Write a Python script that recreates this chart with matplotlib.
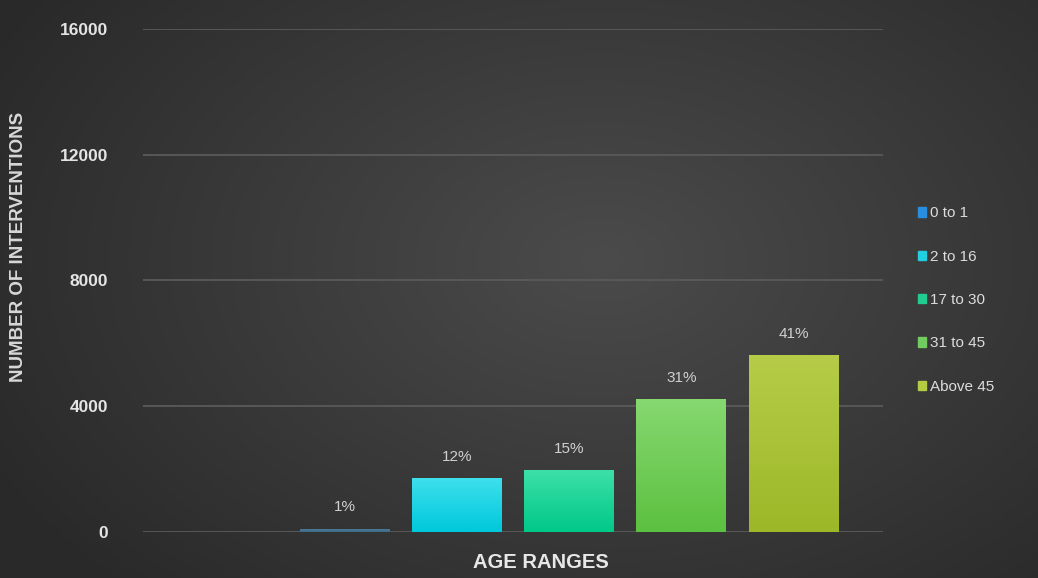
import matplotlib
matplotlib.use("Agg")
import matplotlib.pyplot as plt
import numpy as np
from matplotlib.colors import LinearSegmentedColormap

plt.rcParams["font.family"] = ["Liberation Sans", "DejaVu Sans"]

# ─── Data ─────────────────────────────────────────────────────────────────────
series = ["0 to 1", "2 to 16", "17 to 30", "31 to 45", "Above 45"]
values = [110, 1720, 1980, 4220, 5620]
shares = ["1%", "12%", "15%", "31%", "41%"]
y_ticks = [0, 4000, 8000, 12000, 16000]

top_colors = ["#4f7f9c", "#3fe0ec", "#3ee0a8", "#86d870", "#b6cc48"]
bot_colors = ["#3d6a86", "#00c8dc", "#00c888", "#5cc040", "#9cb828"]
legend_colors = ["#2a8ee0", "#22cfe0", "#20cc90", "#72cc60", "#b4cc44"]

fig = plt.figure(figsize=(10.38, 5.78), dpi=100)

# ─── Background: soft radial grey gradient ────────────────────────────────────
bg = fig.add_axes([0, 0, 1, 1])
yy, xx = np.mgrid[0:1:300j, 0:1:540j]
r = np.sqrt(((xx - 0.58) / 0.75) ** 2 + ((yy - 0.45) / 0.9) ** 2)
bg_cmap = LinearSegmentedColormap.from_list("bg", ["#4b4b4b", "#292929"])
bg.imshow(r, cmap=bg_cmap, aspect="auto", extent=[0, 1, 0, 1], vmin=0, vmax=0.9)
bg.axis("off")

# ─── Main axes ────────────────────────────────────────────────────────────────
ax = fig.add_axes([0.1378, 0.0796, 0.713, 0.8704])
ax.set_facecolor("none")
for s in ax.spines.values():
    s.set_visible(False)
ax.set_yticks(y_ticks)
ax.set_yticklabels([str(t) for t in y_ticks], color="#e4e4e4",
                   fontsize=12.5, fontweight="bold")
ax.tick_params(axis="y", length=0, pad=25)
ax.set_xticks([])
ax.grid(axis="y", color="#5a5a5a", linewidth=1.3)
ax.set_axisbelow(True)

# first slot of the group is empty, series occupy slots 1..5
xs = np.arange(1, len(series) + 1)
bars = ax.bar(xs, values, width=0.8, color=bot_colors, zorder=2)
grad = np.linspace(0, 1, 100).reshape(-1, 1)
for b, c0, c1, v, lab in zip(bars, top_colors, bot_colors, values, shares):
    cm = LinearSegmentedColormap.from_list("g", [c1, c0])
    x0 = b.get_x()
    im = ax.imshow(grad, cmap=cm, aspect="auto", origin="lower",
                   extent=[x0, x0 + b.get_width(), 0, v], zorder=3)
    im.set_clip_path(b)
    ax.text(b.get_x() + b.get_width() / 2, v + 450, lab, ha="center",
            va="bottom", color="#d0d0d0", fontsize=11)
ax.set_xlim(-0.8, 5.8)
ax.set_ylim(0, 16000)

fig.text(0.521, 0.026, "AGE RANGES", ha="center", va="center",
         color="#e8e8e8", fontsize=14.5, fontweight="bold")
fig.text(0.018, 0.573, "NUMBER OF INTERVENTIONS", ha="center", va="center",
         rotation=90, color="#d8d8d8", fontsize=13.5, fontweight="bold")

# ─── Legend ───────────────────────────────────────────────────────────────────
handles = [plt.Rectangle((0, 0), 1, 1, color=c) for c in legend_colors]
leg = fig.legend(handles, series, loc="center left",
                 bbox_to_anchor=(0.871, 0.481), frameon=False,
                 fontsize=11, labelcolor="#dcdcdc", handlelength=0.55,
                 handleheight=0.55, handletextpad=0.25, labelspacing=1.92)

fig.savefig("out.png", dpi=100)
